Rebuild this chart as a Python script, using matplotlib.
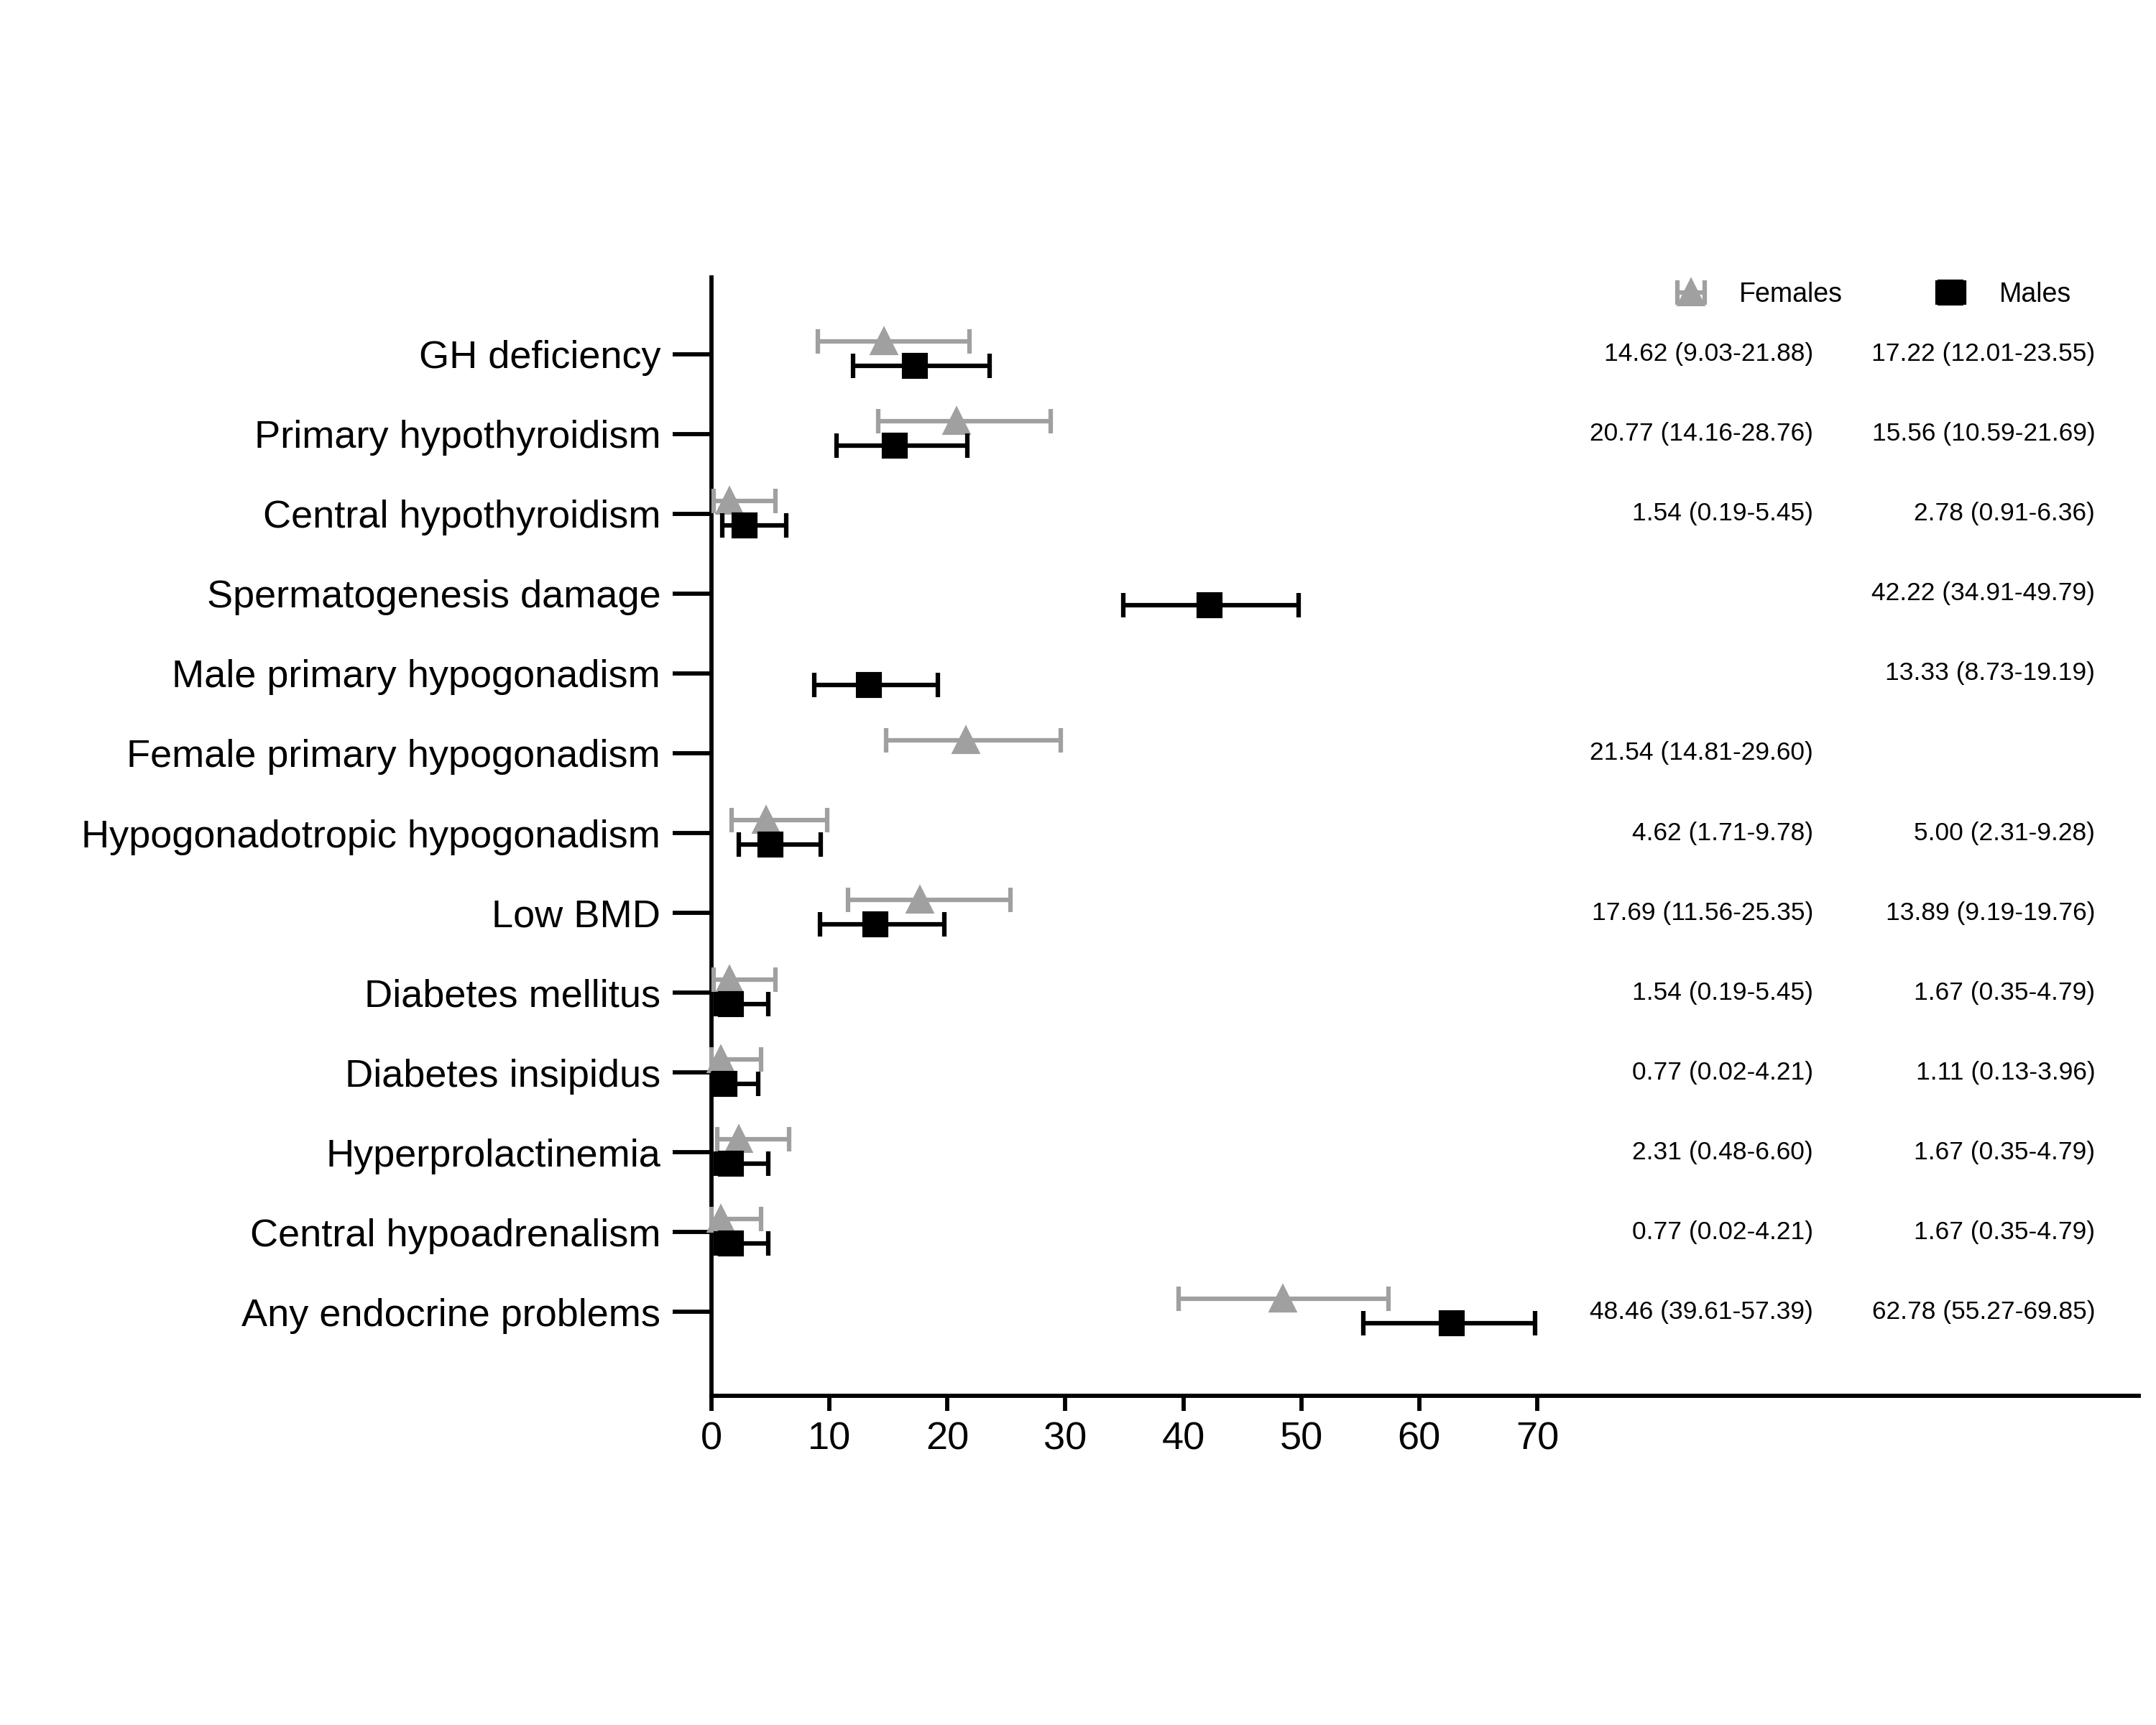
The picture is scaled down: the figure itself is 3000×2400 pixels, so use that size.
import numpy as np
import matplotlib.pyplot as plt

plt.rcParams['font.family'] = ['Liberation Sans', 'DejaVu Sans']

categories = ["GH deficiency", "Primary hypothyroidism", "Central hypothyroidism",
              "Spermatogenesis damage", "Male primary hypogonadism",
              "Female primary hypogonadism", "Hypogonadotropic hypogonadism",
              "Low BMD", "Diabetes mellitus", "Diabetes insipidus",
              "Hyperprolactinemia", "Central hypoadrenalism", "Any endocrine problems"]

nan = np.nan
fem_est = [14.62, 20.77, 1.54, nan, nan, 21.54, 4.62, 17.69, 1.54, 0.77, 2.31, 0.77, 48.46]
fem_lo = [9.03, 14.16, 0.19, nan, nan, 14.81, 1.71, 11.56, 0.19, 0.02, 0.48, 0.02, 39.61]
fem_hi = [21.88, 28.76, 5.45, nan, nan, 29.60, 9.78, 25.35, 5.45, 4.21, 6.60, 4.21, 57.39]

male_est = [17.22, 15.56, 2.78, 42.22, 13.33, nan, 5.00, 13.89, 1.67, 1.11, 1.67, 1.67, 62.78]
male_lo = [12.01, 10.59, 0.91, 34.91, 8.73, nan, 2.31, 9.19, 0.35, 0.13, 0.35, 0.35, 55.27]
male_hi = [23.55, 21.69, 6.36, 49.79, 19.19, nan, 9.28, 19.76, 4.79, 3.96, 4.79, 4.79, 69.85]

fem_col = "#a0a0a0"
male_col = "black"

fig = plt.figure(figsize=(10, 8), dpi=300)
ax = fig.add_axes([0.33, 0.191, 0.662, 0.648])

y = np.arange(len(categories))
fe, fl, fh = map(np.array, (fem_est, fem_lo, fem_hi))
me, ml, mh = map(np.array, (male_est, male_lo, male_hi))

hf = ax.errorbar(fe, y - 0.16, xerr=[fe - fl, fh - fe], fmt="^", color=fem_col,
                 ms=8, lw=1.5, capsize=4, capthick=1.5, clip_on=False, zorder=3, label="Females")
hm = ax.errorbar(me, y + 0.14, xerr=[me - ml, mh - me], fmt="s", color=male_col,
                 ms=7.5, lw=1.5, capsize=4, capthick=1.5, clip_on=False, zorder=4, label="Males")

for i in range(len(categories)):
    if not np.isnan(fe[i]):
        ax.text(93.4, i, f"{fe[i]:.2f} ({fl[i]:.2f}-{fh[i]:.2f})", ha="right", va="center", fontsize=8.5)
    if not np.isnan(me[i]):
        ax.text(117.3, i, f"{me[i]:.2f} ({ml[i]:.2f}-{mh[i]:.2f})", ha="right", va="center", fontsize=8.5)

ax.set_xlim(0, 121)
ax.set_ylim(13.05, -0.96)
ax.set_xticks(range(0, 80, 10))
ax.set_yticks(y)
ax.set_yticklabels(categories, fontsize=13)
ax.tick_params(axis="x", labelsize=13, width=1.4, length=5)
ax.tick_params(axis="y", width=1.4, length=13, pad=4)
for s in ("top", "right"):
    ax.spines[s].set_visible(False)
for s in ("left", "bottom"):
    ax.spines[s].set_linewidth(1.4)

ax.legend(handles=[hf, hm], ncol=2, frameon=False, fontsize=9, loc="center",
          bbox_to_anchor=(0.81, 0.985), columnspacing=3, handlelength=2)

fig.savefig("out.png", dpi=300)
